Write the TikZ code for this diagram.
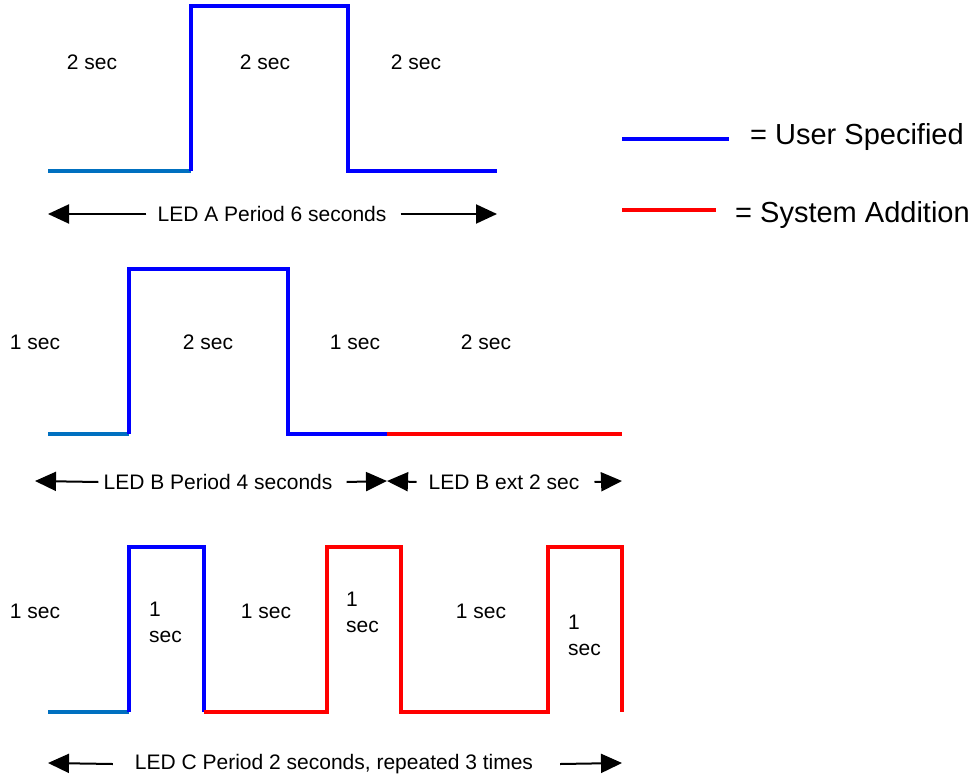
\documentclass[tikz,border=0pt]{standalone}
\usepackage{fontspec}
\setmainfont{Liberation Sans}
\usetikzlibrary{arrows.meta}
\definecolor{idleblue}{RGB}{0,112,192}
\tikzset{userline/.style={draw=blue,line width=3.2pt}}
\tikzset{sysline/.style={draw=red,line width=3.2pt}}
\tikzset{idleline/.style={draw=idleblue,line width=3.2pt}}
\tikzset{periodarrow/.style={line width=2pt,-{Triangle[length=21pt,width=19pt]}}}
\tikzset{lbl/.style={font=\fontsize{21}{26}\selectfont,inner sep=0pt}}
\tikzset{keytext/.style={font=\fontsize{29}{34}\selectfont,anchor=west,inner sep=0pt}}

\begin{document}
\begin{tikzpicture}[x=1pt,y=-1pt]
  \useasboundingbox (0,0) rectangle (973,783);
  % LED A
  \draw[idleline] (48,171) -- (191,171);
  \draw[userline] (191,171) -- (191,6) -- (348,6) -- (348,171) -- (497,171);
  \node[lbl] (a1) at (92,62) {2 sec};
  \node[lbl] (a2) at (265,62) {2 sec};
  \node[lbl] (a3) at (416,62) {2 sec};
  \node[lbl] (perA) at (272,214) {LED A Period 6 seconds};
  \coordinate (aL) at (48,214);
  \coordinate (aR) at (497,214);
  \draw[periodarrow] ([xshift=-11pt]perA.west) -- (aL);
  \draw[periodarrow] ([xshift=14pt]perA.east) -- (aR);
  % legend
  \draw[userline] (622,139) -- (729,139);
  \node[keytext] (keyU) at (750,137) {= User Specified};
  \draw[sysline] (622,210) -- (716,210);
  \node[keytext] (keyS) at (735,215) {= System Addition};
  % LED B
  \draw[idleline] (48,434) -- (129,434);
  \draw[userline] (129,434) -- (129,269) -- (288,269) -- (288,434) -- (387,434);
  \draw[sysline] (387,434) -- (622,434);
  \node[lbl] (b1) at (35,342) {1 sec};
  \node[lbl] (b2) at (208,342) {2 sec};
  \node[lbl] (b3) at (355,342) {1 sec};
  \node[lbl] (b4) at (486,342) {2 sec};
  \node[lbl] (perB) at (218,482) {LED B Period 4 seconds};
  \node[lbl] (extB) at (504,482) {LED B ext 2 sec};
  \coordinate (bL) at (35,481);
  \coordinate (bM) at (387,481);
  \coordinate (bR) at (622,481);
  \draw[periodarrow] ([xshift=-5pt]perB.west) -- (bL);
  \draw[periodarrow] ([xshift=14pt]perB.east) -- (bM);
  \draw[periodarrow] ([xshift=-12pt]extB.west) -- (bM);
  \draw[periodarrow] ([xshift=15pt]extB.east) -- (bR);
  % LED C
  \draw[idleline] (48,712) -- (129,712);
  \draw[userline] (129,712) -- (129,547) -- (204,547) -- (204,712);
  \draw[sysline] (204,712) -- (327,712) -- (327,547) -- (401,547) -- (401,712)
    -- (548,712) -- (548,547) -- (622,547) -- (622,712);
  \node[lbl] (c1) at (35,611) {1 sec};
  \node[lbl,anchor=west,align=left] (c2) at (149,622) {1\\sec};
  \node[lbl] (c3) at (266,611) {1 sec};
  \node[lbl,anchor=west,align=left] (c4) at (346,612) {1\\sec};
  \node[lbl] (c5) at (481,611) {1 sec};
  \node[lbl,anchor=west,align=left] (c6) at (568,635) {1\\sec};
  \node[lbl] (perC) at (334,764) {LED C Period 2 seconds, repeated 3 times};
  \coordinate (cL) at (48,763);
  \coordinate (cR) at (622,763);
  \draw[periodarrow] ([xshift=-22pt]perC.west) -- (cL);
  \draw[periodarrow] ([xshift=27pt]perC.east) -- (cR);
\end{tikzpicture}
\end{document}
